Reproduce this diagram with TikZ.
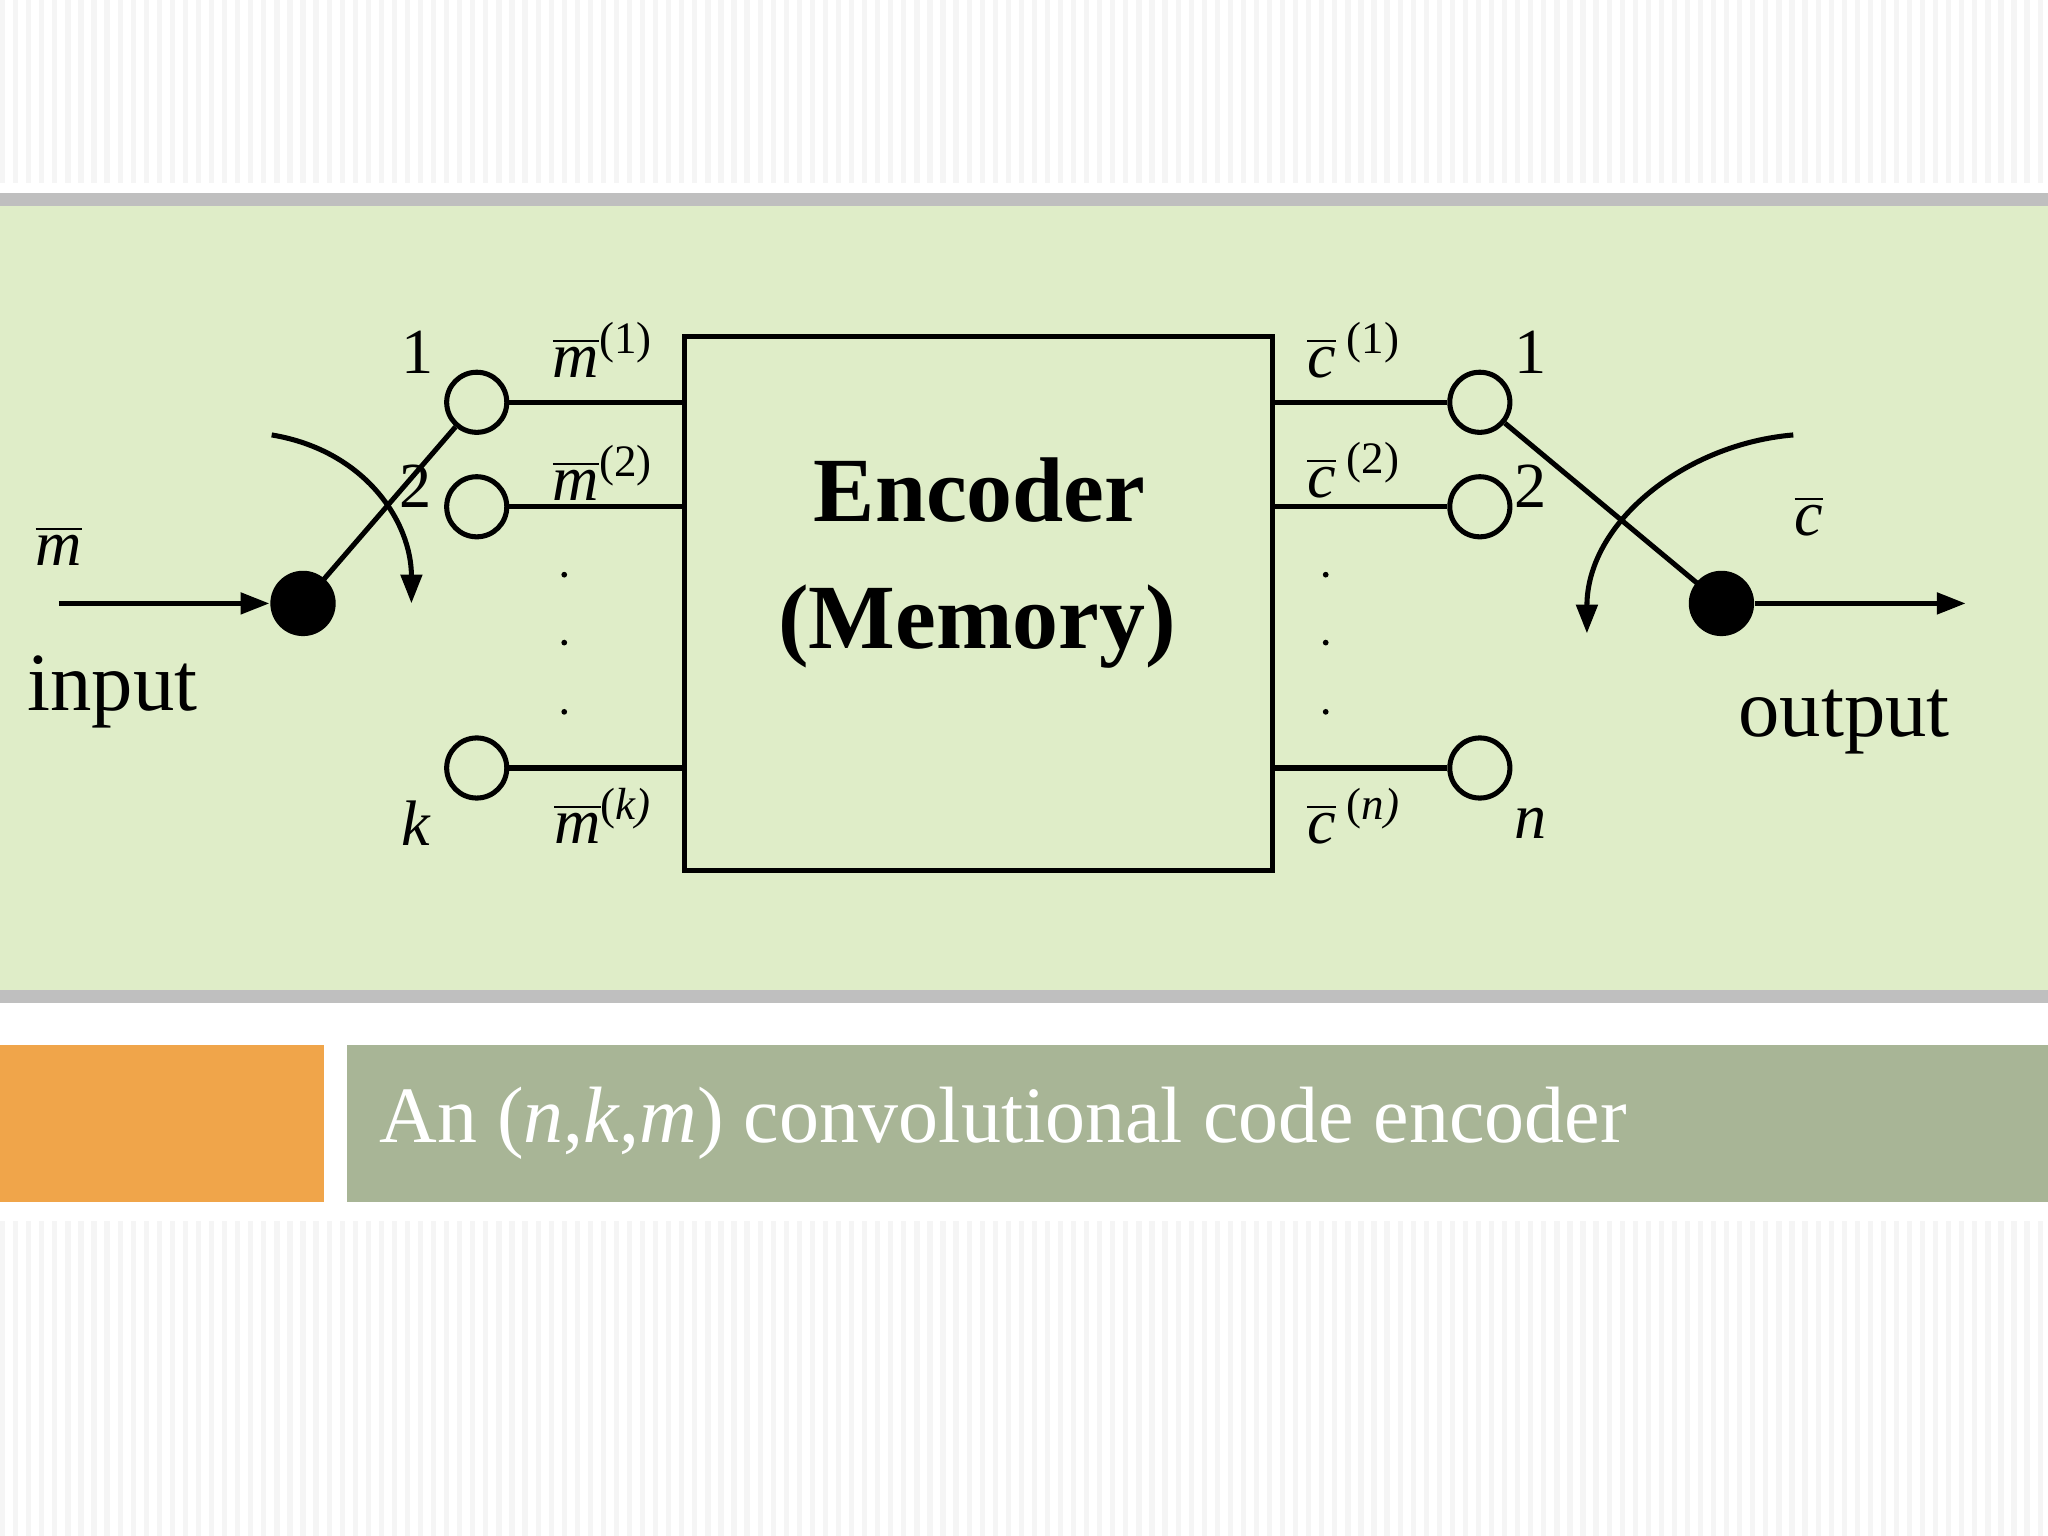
\documentclass[tikz,border=0pt]{standalone}
\usepackage{fontspec}
\setmainfont{Liberation Serif}
\usetikzlibrary{arrows.meta}
\definecolor{panel}{HTML}{DFEDC8}
\definecolor{orng}{HTML}{F0A54A}
\definecolor{sage}{HTML}{A8B596}
\newcommand{\ovl}[1]{$\overline{\mbox{\itshape #1}}$}
\begin{document}
\begin{tikzpicture}[x=0.01cm,y=-0.01cm,
  port/.style={circle,draw,line width=1.1pt,minimum size=0.46cm,inner sep=0pt},
  hub/.style={circle,fill=black,minimum size=0.5cm,inner sep=0pt},
  wire/.style={line width=1.1pt},
  arr/.style={line width=1.1pt,-{Triangle[length=0.22cm,width=0.16cm]}},
  lab/.style={font=\fontsize{14}{16}\selectfont,inner sep=0pt}]
\useasboundingbox (0,0) rectangle (1568,1176);
\fill[white] (0,0) rectangle (1568,1176);
\foreach \x in {0,10,...,1560}{\fill[black!4] (\x,0) rectangle (\x+4,140); \fill[black!4] (\x,935) rectangle (\x+4,1176);}
\fill[black!25] (0,148) rectangle (1568,158);
\fill[black!25] (0,758) rectangle (1568,768);
\fill[panel] (0,158) rectangle (1568,758);
\fill[orng] (0,800) rectangle (248,920);
\fill[sage] (266,800) rectangle (1568,920);
\node[anchor=west,text=white,font=\fontsize{17.4}{20}\selectfont,inner sep=0pt] (cap) at (290,860) {An (\textit{n},\textit{k},\textit{m}) convolutional code encoder};
% encoder
\node[draw,line width=1.1pt,minimum width=4.5cm,minimum height=4.08cm,inner sep=0pt] (enc) at (749,462) {};
\node[font=\bfseries\fontsize{20}{24}\selectfont] (t1) at (750,375) {Encoder};
\node[font=\bfseries\fontsize{20}{24}\selectfont] (t2) at (748,480) {(Memory)};
% ports
\node[port] (l1) at (365,308) {};
\node[port] (l2) at (365,388) {};
\node[port] (lk) at (365,588) {};
\node[port] (r1) at (1133,308) {};
\node[port] (r2) at (1133,388) {};
\node[port] (rn) at (1133,588) {};
\coordinate (e1) at (524,308); \coordinate (e2) at (524,388); \coordinate (ek) at (524,588);
\coordinate (f1) at (974,308); \coordinate (f2) at (974,388); \coordinate (fn) at (974,588);
\draw[wire] (l1) -- (e1); \draw[wire] (l2) -- (e2); \draw[wire] (lk) -- (ek);
\draw[wire] (f1) -- (r1); \draw[wire] (f2) -- (r2); \draw[wire] (fn) -- (rn);
\foreach \y in {440,492,545}{\fill (432,\y) circle (2.2); \fill (1015,\y) circle (2.2);}
% hubs
\node[hub] (hin) at (232,462) {};
\node[hub] (hout) at (1318,462) {};
\coordinate (in) at (45,462); \coordinate (out) at (1505,462);
\draw[arr] (in) -- (hin);
\draw[arr] (hout) -- (out);
\draw[wire] (hin.center) -- (l1);
\draw[wire] (r1) -- (hout.center);
\coordinate (a1) at (208,333); \coordinate (a2) at (315,462);
\draw[arr] (a1) .. controls (280,345) and (315,400) .. (a2);
\coordinate (b1) at (1373,333); \coordinate (b2) at (1215,485);
\draw[arr] (b1) .. controls (1290,340) and (1215,400) .. (b2);
% labels
\node[lab] (n1) at (320,270) {1};
\node[lab] (n2) at (318,372) {2};
\node[lab] (nk) at (318,630) {\itshape k};
\node[lab] (m1) at (462,268) {\ovl{m}\textsuperscript{(1)}};
\node[lab] (m2) at (462,362) {\ovl{m}\textsuperscript{(2)}};
\node[lab] (mk) at (462,625) {\ovl{m}\textsuperscript{(\itshape k)}};
\node[lab] (c1) at (1037,268) {\ovl{c}\,\textsuperscript{(1)}};
\node[lab] (c2) at (1037,360) {\ovl{c}\,\textsuperscript{(2)}};
\node[lab] (cn) at (1037,625) {\ovl{c}\,\textsuperscript{(\itshape n)}};
\node[lab] (o1) at (1172,270) {1};
\node[lab] (o2) at (1172,372) {2};
\node[lab] (on) at (1172,630) {\itshape n};
\node[lab] (mm) at (45,418) {\ovl{m}};
\node[lab,font=\fontsize{18}{21}\selectfont] (inp) at (86,530) {input};
\node[lab,font=\fontsize{18}{21}\selectfont] (outp) at (1412,553) {output};
\node[lab] (cc) at (1385,395) {\ovl{c}};
\end{tikzpicture}
\end{document}
